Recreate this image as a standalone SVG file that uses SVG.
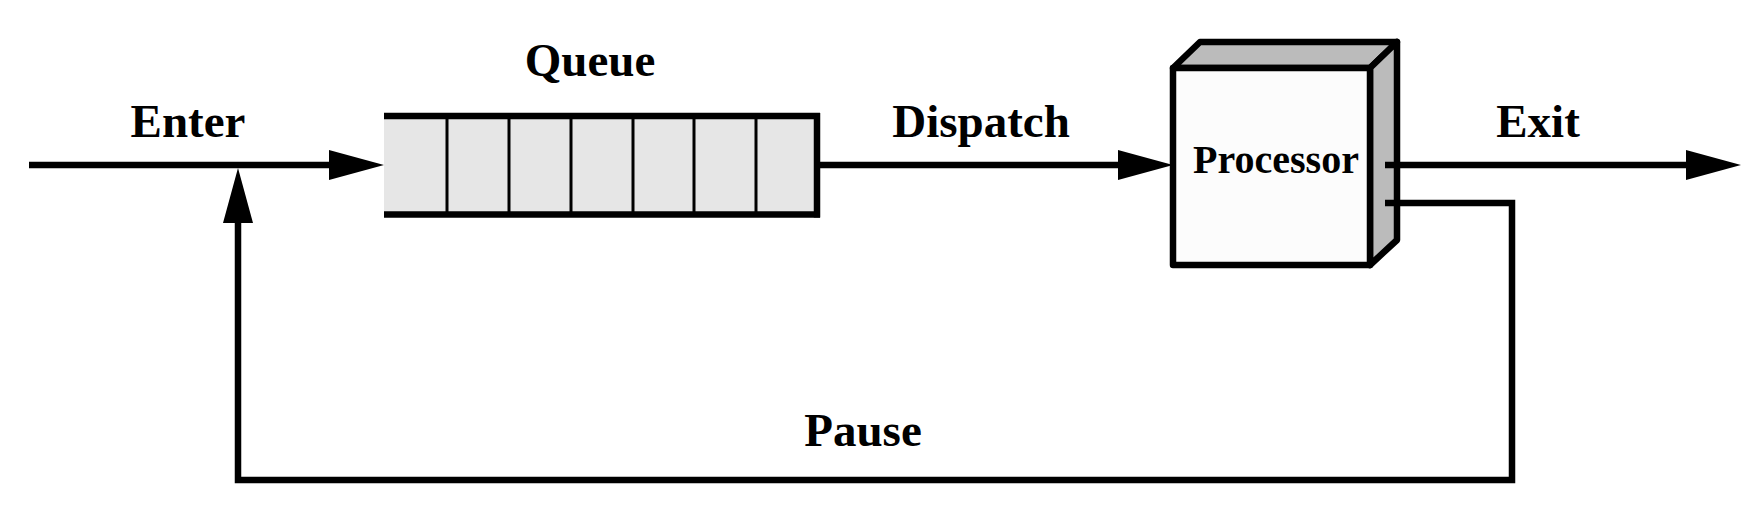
<svg xmlns="http://www.w3.org/2000/svg" width="1754" height="517" viewBox="0 0 1754 517">
  <style>
    .lbl { font-family: "Liberation Serif", "Times New Roman", serif; font-weight: bold; font-size: 47px; fill: #000; text-anchor: middle; }
    .plbl { font-family: "Liberation Serif", "Times New Roman", serif; font-weight: bold; font-size: 40px; fill: #000; text-anchor: middle; }
    .wire { fill: none; stroke: #000; stroke-width: 6.5; }
    .thick { stroke: #000; stroke-width: 6.5; }
    .div { stroke: #000; stroke-width: 3; }
    .box { stroke: #000; stroke-width: 6.5; stroke-linejoin: round; }
  </style>
  <defs>
    <marker id="arrow" markerUnits="userSpaceOnUse" viewBox="-2 -15 56 30" markerWidth="56" markerHeight="30" refX="0" refY="0" orient="auto">
      <path d="M-2,-15 L53,0 L-2,15 z" fill="#000"/>
    </marker>
  </defs>
  <rect width="1754" height="517" fill="#fff"/>

  <g id="queue">
    <rect x="384" y="116" width="433" height="98" fill="#e6e6e6"/>
    <line class="div" x1="447" y1="116" x2="447" y2="214"/>
    <line class="div" x1="509" y1="116" x2="509" y2="214"/>
    <line class="div" x1="571" y1="116" x2="571" y2="214"/>
    <line class="div" x1="633" y1="116" x2="633" y2="214"/>
    <line class="div" x1="694" y1="116" x2="694" y2="214"/>
    <line class="div" x1="756" y1="116" x2="756" y2="214"/>
    <line class="thick" x1="384" y1="116" x2="820" y2="116"/>
    <line class="thick" x1="384" y1="214.5" x2="820" y2="214.5"/>
    <line class="thick" x1="817" y1="113" x2="817" y2="217.5"/>
    <text class="lbl" x="590" y="76">Queue</text>
  </g>

  <g id="processor">
    <polygon class="box" points="1173,68 1200,42 1397,42 1370,68" fill="#bbbbbb"/>
    <polygon class="box" points="1370,68 1397,42 1397,240 1370,265" fill="#bbbbbb"/>
    <rect class="box" x="1173" y="68" width="197" height="197" fill="#fcfcfc"/>
    <text class="plbl" x="1276" y="173">Processor</text>
  </g>

  <g id="connectors">
    <line class="wire" x1="29" y1="165" x2="331" y2="165" marker-end="url(#arrow)"/>
    <line class="wire" x1="820" y1="165" x2="1120" y2="165" marker-end="url(#arrow)"/>
    <line class="wire" x1="1385" y1="165" x2="1688" y2="165" marker-end="url(#arrow)"/>
    <path class="wire" d="M1385,203 H1512 V480 H238 V221" marker-end="url(#arrow)"/>
  </g>

  <g id="labels">
    <text class="lbl" x="188" y="137">Enter</text>
    <text class="lbl" x="981" y="137">Dispatch</text>
    <text class="lbl" x="1538" y="137">Exit</text>
    <text class="lbl" x="863" y="446">Pause</text>
  </g>
</svg>
